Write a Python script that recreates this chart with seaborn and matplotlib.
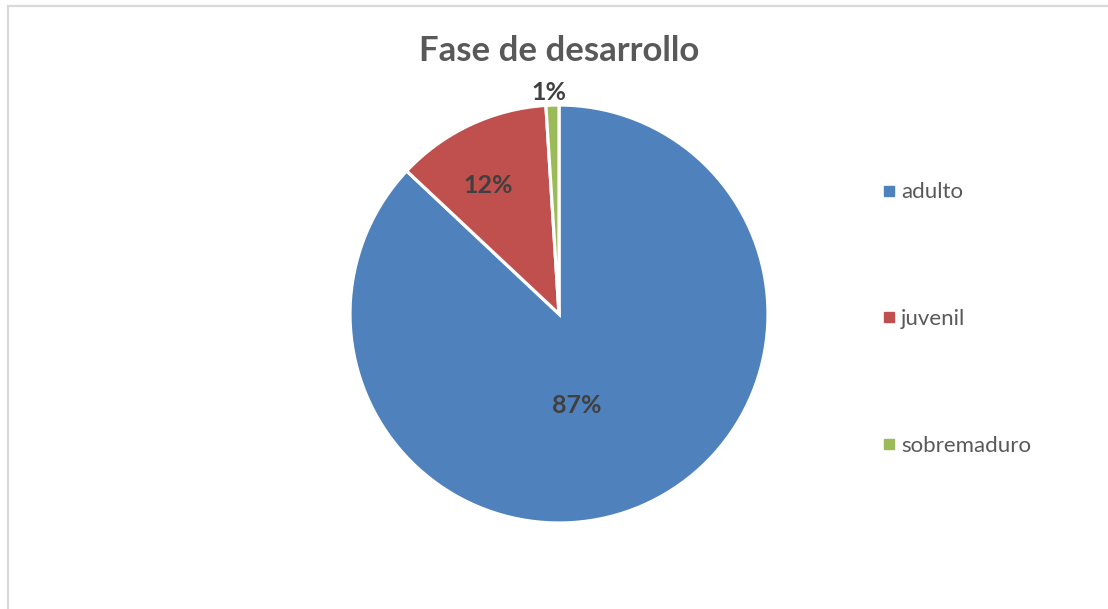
import matplotlib
matplotlib.use("Agg")
import matplotlib.pyplot as plt
from matplotlib.patches import Rectangle
from matplotlib.lines import Line2D
import seaborn as sns

# Development stage shares (percent)
stages = ["adulto", "juvenil", "sobremaduro"]
shares = [87, 12, 1]
stage_colors = ["#4F81BD", "#C0504D", "#9BBB59"]

sns.set_theme(style="white")
plt.rcParams["font.family"] = ["Lato", "DejaVu Sans"]

W, H = 1108, 609
fig = plt.figure(figsize=(W / 100, H / 100), dpi=100)
fig.patch.set_facecolor("white")

# chart-area frame (light gray)
frame = Rectangle((7.5 / W, -0.05), 1.2, 1 - 5.5 / H + 0.05, transform=fig.transFigure,
                  fill=False, edgecolor="#D9D9D9", linewidth=1.6)
fig.patches.append(frame)

# pie placed so its disc spans the square plot box
cx, cy, r = 559, 314, 209
ax = fig.add_axes([(cx - r) / W, (H - cy - r) / H, 2 * r / W, 2 * r / H])
wedges, _ = ax.pie(shares, colors=stage_colors, startangle=90, counterclock=False,
                   radius=1, wedgeprops=dict(edgecolor="white", linewidth=2.3))
ax.set_xlim(-1, 1)
ax.set_ylim(-1, 1)
ax.set_aspect("equal")
ax.axis("off")

# percentage labels
label_pos = [(0.086, -0.44), (-0.34, 0.615), (-0.048, 1.06)]
for val, (lx, ly) in zip(shares, label_pos):
    ax.text(lx, ly, f"{val}%", ha="center", va="center", fontsize=18,
            fontweight="bold", color="#404040", clip_on=False)

fig.text(559 / W, 1 - 51 / H, "Fase de desarrollo", ha="center", va="center",
         fontsize=25, fontweight="bold", color="#595959")

# legend entries on the right
handles = [Line2D([0], [0], marker="s", linestyle="none", markersize=7,
                  markerfacecolor=c, markeredgecolor=c) for c in stage_colors]
leg = fig.legend(handles, stages, loc="center left",
                 bbox_to_anchor=(872 / W, 1 - 319 / H), frameon=False,
                 fontsize=16, labelcolor="#595959", handlelength=0.55,
                 handletextpad=0.25, labelspacing=4.8, borderpad=0)

fig.savefig("out.png", dpi=100, facecolor="white")
